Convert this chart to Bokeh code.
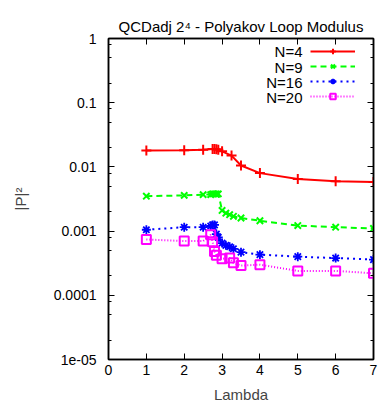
from bokeh.plotting import figure
from bokeh.models import (FixedTicker, LinearAxis, LogAxis, Legend, LegendItem, Range1d, Title, Label,
                          CustomLabelingPolicy)
from bokeh.embed import file_html
from bokeh.resources import INLINE

x_n4 = [1, 2, 2.5, 2.75, 2.8, 2.85, 2.9, 3.0, 3.25, 3.5, 4, 5, 6, 7]
y_n4 = [0.018, 0.0182, 0.0185, 0.019, 0.019, 0.0188, 0.0185, 0.0175, 0.015, 0.0105, 0.008, 0.0065, 0.006, 0.0058]

x_n9 = [1, 2, 2.5, 2.7, 2.75, 2.8, 2.85, 2.9, 3.0, 3.1, 3.2, 3.3, 3.5, 4, 5, 6, 7]
y_n9 = [0.0035, 0.0036, 0.0037, 0.0037, 0.0038, 0.0038, 0.0038, 0.0038, 0.0021, 0.0019, 0.0018, 0.0017, 0.0016,
        0.00145, 0.00122, 0.00115, 0.0011]

x_n16 = [1, 2, 2.5, 2.7, 2.75, 2.8, 2.85, 2.9, 3.0, 3.1, 3.2, 3.3, 3.5, 4, 5, 6, 7]
y_n16 = [0.00105, 0.00115, 0.00115, 0.0012, 0.00125, 0.00125, 0.0009, 0.0008, 0.00065, 0.0006, 0.00057, 0.00053,
         0.00047, 0.00043, 0.0004, 0.00038, 0.00036]

x_n20 = [1, 2, 2.5, 2.7, 2.75, 2.8, 2.85, 3.0, 3.2, 3.3, 3.5, 4, 5, 6, 7]
y_n20 = [0.00074, 0.0007, 0.0007, 0.00088, 0.00068, 0.00048, 0.00042, 0.00037, 0.00038, 0.00032, 0.00029, 0.0003,
         0.00024, 0.00024, 0.00022]

series_labels = ["N=4", "N=9", "N=16", "N=20"]
x_ticks = [0, 1, 2, 3, 4, 5, 6, 7]
y_ticks = [1e-5, 1e-4, 1e-3, 1e-2, 1e-1, 1]
y_tick_labels = ["1e-05", "0.0001", "0.001", "0.01", "0.1", "1"]
y_minor = [m * 10.0 ** e for e in range(-5, 0) for m in (2, 5, 8)]

FONT = "Liberation Sans"

p = figure(width=381, height=405, output_backend="svg", toolbar_location=None,
           y_axis_type="log", x_range=Range1d(0, 7), y_range=Range1d(1e-5, 1),
           x_axis_location=None, y_axis_location=None,
           min_border_left=108, min_border_right=8, min_border_top=38, min_border_bottom=46)
p.grid.visible = False
p.outline_line_color = "black"
p.outline_line_width = 1.5
p.background_fill_color = "white"
p.border_fill_color = "white"

xt = FixedTicker(ticks=x_ticks)
yt = FixedTicker(ticks=y_ticks, minor_ticks=y_minor)

no_labels = CustomLabelingPolicy(code="""
for (let i = 0; i < indices.size; i++) { indices.unset(i) }
return indices
""")


def style(ax):
    ax.axis_line_color = "black"
    ax.axis_line_width = 1.5
    ax.major_tick_in = 6
    ax.major_tick_out = 0
    ax.minor_tick_in = 3
    ax.minor_tick_out = 0
    ax.major_tick_line_color = "black"
    ax.minor_tick_line_color = "black"
    ax.major_label_text_font = FONT
    ax.major_label_text_font_size = "14px"
    ax.axis_label_text_font = FONT
    ax.axis_label_text_font_size = "15px"
    ax.axis_label_text_font_style = "normal"
    ax.major_label_text_color = "black"


bottom = LinearAxis(ticker=xt, axis_label="Lambda")
style(bottom)
bottom.major_label_standoff = 5
bottom.axis_label_standoff = 8
p.add_layout(bottom, "below")

top = LinearAxis(ticker=xt)
style(top)
top.major_label_overrides = {t: "" for t in x_ticks}
top.major_label_policy = no_labels
top.major_label_standoff = 0
p.add_layout(top, "above")

left = LogAxis(ticker=yt, axis_label="|P|\u00b2")
style(left)
left.major_label_overrides = {t: l for t, l in zip(y_ticks, y_tick_labels)}
left.major_label_standoff = 12
left.axis_label_standoff = 22
p.add_layout(left, "left")

right = LogAxis(ticker=yt)
style(right)
right.major_label_overrides = {t: "" for t in y_ticks}
right.major_label_policy = no_labels
right.major_label_standoff = 0
p.add_layout(right, "right")

p.add_layout(Title(text="QCDadj 2\u2074 - Polyakov Loop Modulus", align="center", text_font=FONT,
                   text_font_size="15px", text_font_style="normal", text_color="black", standoff=8), "above")

l4 = p.line(x_n4, y_n4, line_color="#ff0000", line_width=2)
m4 = p.scatter(x_n4, y_n4, marker="cross", size=10, line_color="#ff0000", line_width=2)
l9 = p.line(x_n9, y_n9, line_color="#00ff00", line_width=2, line_dash="6 4")
m9 = p.scatter(x_n9, y_n9, marker="x", size=9, line_color="#00ff00", line_width=2)
l16 = p.line(x_n16, y_n16, line_color="#0000ff", line_width=2, line_dash="2 4")
m16 = p.scatter(x_n16, y_n16, marker="asterisk", size=9, line_color="#0000ff", line_width=1.8)
l20 = p.line(x_n20, y_n20, line_color="#ff00ff", line_width=2, line_dash="1 2")
m20 = p.scatter(x_n20, y_n20, marker="square", size=9, line_color="#ff00ff", fill_color=None, line_width=2)

legend = Legend(items=[LegendItem(label=" ", renderers=[l4, m4]),
                       LegendItem(label=" ", renderers=[l9, m9]),
                       LegendItem(label=" ", renderers=[l16, m16]),
                       LegendItem(label=" ", renderers=[l20, m20])],
                location=(202, 256), glyph_width=45, glyph_height=14, label_height=14,
                label_standoff=0, label_width=1,
                spacing=1, padding=0, margin=0, border_line_color=None, background_fill_alpha=0,
                label_text_font=FONT, label_text_font_size="13px")
p.add_layout(legend, "center")

row_y = [308, 292, 277, 262]
for lab, yy in zip(series_labels, row_y):
    p.add_layout(Label(x=194, y=yy, x_units="screen", y_units="screen", text=lab, text_align="right",
                       text_baseline="middle", text_font=FONT, text_font_size="15px", text_color="black"))

open("out.html", "w").write(file_html(p, INLINE))
